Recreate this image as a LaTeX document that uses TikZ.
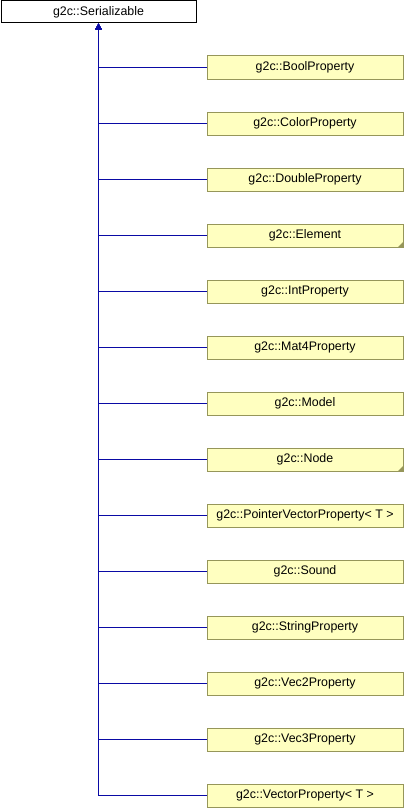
\documentclass[tikz,border=0pt]{standalone}
\usepackage{fontspec}
\setmainfont{Liberation Sans}
\usetikzlibrary{arrows.meta}
\definecolor{edgeblue}{RGB}{10,10,165}
\definecolor{boxfill}{RGB}{255,255,192}
\definecolor{boxline}{RGB}{150,150,90}
\tikzset{
  classnode/.style = {draw, rectangle, align=center, inner sep=0pt, font=\fontsize{12.4}{14}\selectfont},
  basecls/.style = {classnode, fill=white, draw=black, line width=1pt, minimum width=195pt, minimum height=22pt},
  subcls/.style = {classnode, fill=boxfill, draw=boxline, line width=1pt, minimum width=196pt, minimum height=23pt},
  inherit/.style = {draw=edgeblue, line width=1.2pt, -{Triangle[length=6pt,width=6pt]}},
}

\begin{document}
\begin{tikzpicture}[x=1pt, y=-1pt]
  \useasboundingbox (0,0) rectangle (404,808);
  \node [basecls] (ser) at (98.5,12) {g2c::Serializable};
  \foreach \name/\txt [count=\i from 0] in {
      bool/g2c::BoolProperty, color/g2c::ColorProperty, double/g2c::DoubleProperty,
      element/g2c::Element, int/g2c::IntProperty, mat4/g2c::Mat4Property,
      model/g2c::Model, node/g2c::Node, ptrvec/{g2c::PointerVectorProperty< T >},
      sound/g2c::Sound, string/g2c::StringProperty, vec2/g2c::Vec2Property,
      vec3/g2c::Vec3Property, vec/{g2c::VectorProperty< T >}}
  {
    \node [subcls] (\name) at (305,67.5+56*\i) {\txt};
    \draw [inherit] (\name.west) -| (ser.south);
  }
  % truncated-hierarchy marks
  \fill [boxline] (element.south east) -- ++(-6,0) -- ++(6,-6) -- cycle;
  \fill [boxline] (node.south east) -- ++(-6,0) -- ++(6,-6) -- cycle;
\end{tikzpicture}
\end{document}
